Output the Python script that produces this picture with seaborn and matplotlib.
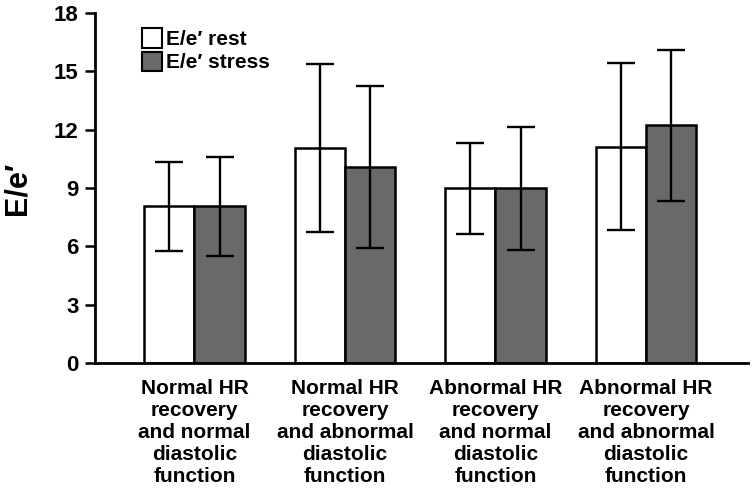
import matplotlib
matplotlib.use("Agg")
from matplotlib import pyplot as plt
from matplotlib.patches import Patch
import numpy as np
import pandas as pd
import seaborn as sns

# values
groups = ["Normal HR\nrecovery\nand normal\ndiastolic\nfunction",
          "Normal HR\nrecovery\nand abnormal\ndiastolic\nfunction",
          "Abnormal HR\nrecovery\nand normal\ndiastolic\nfunction",
          "Abnormal HR\nrecovery\nand abnormal\ndiastolic\nfunction"]
conditions = ["E/e\u2032 rest", "E/e\u2032 stress"]
rest_mean = [8.05, 11.05, 8.98, 11.13]
rest_sd = [2.3, 4.3, 2.35, 4.27]
stress_mean = [8.05, 10.08, 8.98, 12.22]
stress_sd = [2.53, 4.18, 3.16, 3.88]
yticks = [0, 3, 6, 9, 12, 15, 18]

colors = ["white", "#696969"]

sns.set_theme(style="ticks")
plt.rcParams["font.family"] = ["Liberation Sans", "DejaVu Sans"]
plt.rcParams["font.weight"] = "bold"
plt.rcParams["text.color"] = "black"
plt.rcParams["axes.labelcolor"] = "black"
plt.rcParams["xtick.color"] = "black"
plt.rcParams["ytick.color"] = "black"

df = pd.DataFrame({
    "group": groups * 2,
    "condition": [conditions[0]] * 4 + [conditions[1]] * 4,
    "value": rest_mean + stress_mean,
    "sd": rest_sd + stress_sd,
})

fig = plt.figure(figsize=(7.54, 4.94), dpi=100)
ax = fig.add_axes([0.126, 0.2646, 0.866, 0.7097])

sns.barplot(data=df, x="group", y="value", hue="condition", palette=colors,
            width=0.67, gap=0, edgecolor="black", linewidth=1.8,
            errorbar=None, legend=False, ax=ax)

# error bars on top of each bar, matched by bar order (hue-major)
bars = [p for p in ax.patches if p.get_height() > 0]
for bar, (_, row) in zip(bars, df.iterrows()):
    xc = bar.get_x() + bar.get_width() / 2
    ax.errorbar(xc, row["value"], yerr=row["sd"], fmt="none", ecolor="black",
                elinewidth=1.7, capsize=10, capthick=1.7, zorder=5)

ax.set_ylim(0, 18)
ax.set_xlim(-0.661, 3.678)
ax.set_yticks(yticks)
ax.set_yticklabels([str(t) for t in yticks], fontsize=16, fontweight="bold")
ax.set_xticklabels(groups, fontsize=15, fontweight="bold", linespacing=1.21)
ax.tick_params(axis="x", length=0, pad=11)
ax.tick_params(axis="y", length=7, width=1.8, pad=5)
ax.set_xlabel("")
ax.set_ylabel("E/e\u2032", fontsize=22, fontweight="bold", labelpad=15)
sns.despine(ax=ax)
for s in ["left", "bottom"]:
    ax.spines[s].set_linewidth(2)
    ax.spines[s].set_color("black")

handles = [Patch(facecolor=c, edgecolor="black", linewidth=1.5) for c in colors]
ax.legend(handles, conditions, loc="upper left", bbox_to_anchor=(0.05, 0.997),
          frameon=False, handlelength=0.95, handleheight=1.05,
          handletextpad=0.2, labelspacing=0.12, borderaxespad=0.3,
          prop={"weight": "bold", "size": 15})

fig.savefig("out.png", dpi=100)
